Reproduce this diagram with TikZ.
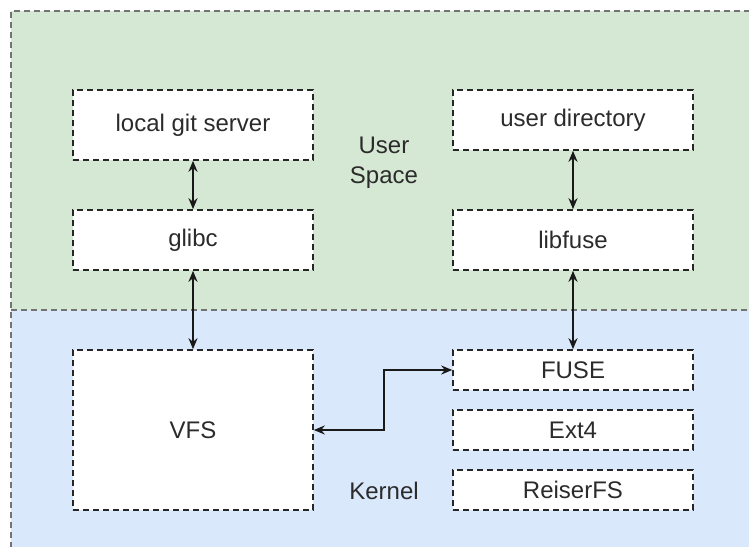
\documentclass[tikz,border=0pt]{standalone}
\usepackage{fontspec}
\setmainfont{Liberation Sans}
\usetikzlibrary{arrows.meta}
\definecolor{ugreen}{HTML}{D5E8D4}
\definecolor{kblue}{HTML}{DAE8FC}
\definecolor{txt}{HTML}{2B2B2B}
\begin{document}
\begin{tikzpicture}[x=1pt,y=-1pt,
  box/.style={draw=black!85, dashed, dash pattern=on 6pt off 4pt, line width=1.6pt, fill=white,
    minimum width=240pt, inner sep=0pt, text=txt, font=\fontsize{24}{29}\selectfont},
  lbl/.style={text=txt, font=\fontsize{24}{30}\selectfont, align=center, inner sep=0pt},
  link/.style={line width=2.2pt, black!90, {Stealth[length=11pt,width=9pt]}-{Stealth[length=11pt,width=9pt]}},
  region/.style={draw=black!55, dash pattern=on 6pt off 4pt, line width=1.6pt}]
\useasboundingbox (0,0) rectangle (749,546);
\clip (0,0) rectangle (749,546);
% regions
\fill[ugreen] (11,11) rectangle (760,310);
\fill[kblue] (11,310) rectangle (760,560);
\draw[region] (760,11) -- (11,11) -- (11,560);
\draw[region] (11,310) -- (760,310);
% nodes
\node[box, minimum height=70pt] (git) at (193,125) {local git server};
\node[box, minimum height=60pt] (glibc) at (193,240) {glibc};
\node[box, minimum height=60pt] (udir) at (573,120) {user directory};
\node[box, minimum height=60pt] (libfuse) at (573,240) {libfuse};
\node[box, minimum height=160pt] (vfs) at (193,430) {VFS};
\node[box, minimum height=40pt] (fuse) at (573,370) {FUSE};
\node[box, minimum height=40pt] (ext4) at (573,430) {Ext4};
\node[box, minimum height=40pt] (reiser) at (573,490) {ReiserFS};
\node[lbl] (user) at (384,163) {User\\Space};
\node[lbl] (kernel) at (384,491) {Kernel};
% connectors
\draw[link] (git.south) -- (glibc.north);
\draw[link] (glibc.south) -- (vfs.north);
\draw[link] (udir.south) -- (libfuse.north);
\draw[link] (libfuse.south) -- (fuse.north);
\draw[link] (vfs.east) -- ++(70,0) |- (fuse.west);
\end{tikzpicture}
\end{document}
